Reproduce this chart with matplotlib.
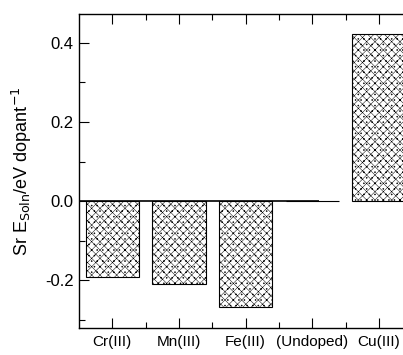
import numpy as np
import matplotlib.pyplot as plt
from matplotlib.ticker import MultipleLocator

# dopants and solution energies (eV per dopant)
dopants = ["Cr(III)", "Mn(III)", "Fe(III)", "(Undoped)", "Cu(III)"]
e_soln = [-0.19, -0.208, -0.268, 0.0, 0.423]

plt.rcParams['font.family'] = ['Liberation Sans', 'DejaVu Sans']
plt.rcParams['hatch.linewidth'] = 0.35

fig = plt.figure(figsize=(4.03, 3.55), dpi=100)
ax = fig.add_axes([0.196, 0.076, 0.804, 0.885])

x = np.arange(len(dopants))
bars = ax.bar(x, e_soln, width=0.8, color='white', edgecolor='black',
              linewidth=0.8, hatch='xxxx...')

# zero line (stops before the Cu bar, like the original)
ax.hlines(0, -0.5, 3.1, color='black', linewidth=1.2)

ax.set_xlim(-0.5, 4.36)
ax.set_ylim(-0.32, 0.473)

ax.set_xticks(x)
ax.set_xticklabels(dopants, family=['Liberation Sans Narrow', 'Liberation Sans'], fontsize=11)
ax.set_xticks(x[:-1] + 0.5, minor=True)
ax.set_yticks([-0.2, 0.0, 0.2, 0.4])
ax.yaxis.set_minor_locator(MultipleLocator(0.1))
ax.set_yticklabels(["-0.2", "0.0", "0.2", "0.4"], fontsize=12)

ax.tick_params(axis='x', which='both', direction='in', top=True, bottom=True, pad=5)
ax.tick_params(axis='x', which='major', length=7, width=0.8)
ax.tick_params(axis='x', which='minor', length=4, width=0.8)
ax.tick_params(axis='y', which='both', direction='in', left=True, right=False, pad=4)
ax.tick_params(axis='y', which='major', length=7, width=0.8)
ax.tick_params(axis='y', which='minor', length=4, width=0.8)

ax.spines['right'].set_visible(False)
for s in ['left', 'top', 'bottom']:
    ax.spines[s].set_linewidth(1.0)

ax.set_ylabel(r"Sr E$_{\mathrm{Soln}}$/eV dopant$^{-1}$", fontsize=13, labelpad=8)

fig.savefig("out.png", dpi=100)
